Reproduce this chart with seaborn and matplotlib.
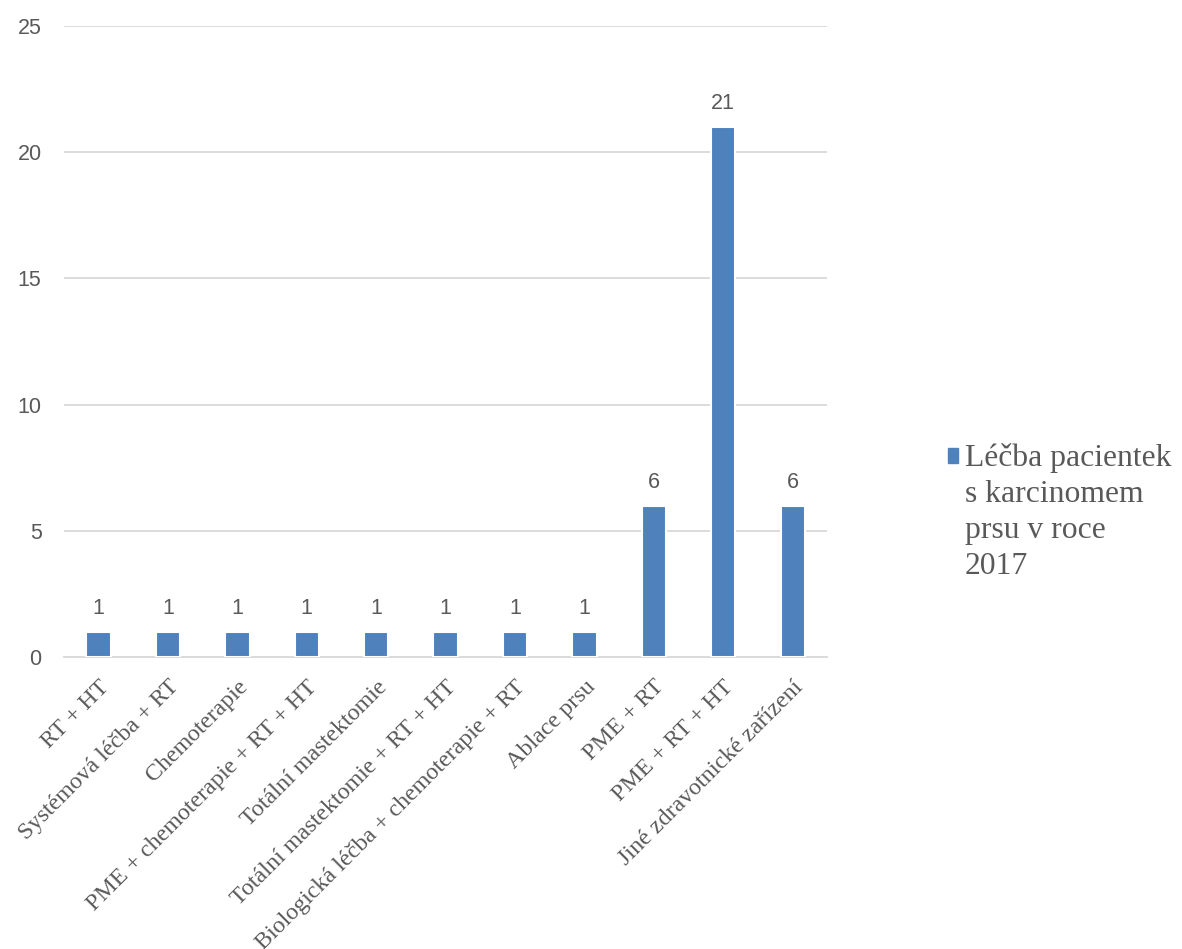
import matplotlib
matplotlib.use("Agg")
import matplotlib.pyplot as plt
import seaborn as sns
import pandas as pd
import numpy as np

categories = ["RT + HT", "Systémová léčba + RT", "Chemoterapie", "PME + chemoterapie + RT + HT",
              "Totální mastektomie", "Totální mastektomie + RT + HT",
              "Biologická léčba + chemoterapie + RT", "Ablace prsu", "PME + RT",
              "PME + RT + HT", "Jiné zdravotnické zařízení"]
values = [1, 1, 1, 1, 1, 1, 1, 1, 6, 21, 6]
series_name = "Léčba pacientek\ns karcinomem\nprsu v roce\n2017"
y_ticks = [0, 5, 10, 15, 20, 25]

sns.set_theme(style="white")
plt.rcParams['font.family'] = ['Liberation Sans', 'DejaVu Sans']

df = pd.DataFrame({"cat": categories, "val": values, "series": series_name})

fig = plt.figure(figsize=(11.82, 9.49), dpi=100)
ax = fig.add_axes([0.054, 0.3077, 0.646, 0.665])

BAR = "#4F81BD"
GRID = "#D9D9D9"
TXT = "#595959"

sns.barplot(data=df, x="cat", y="val", hue="series", palette=[BAR], width=0.35,
            saturation=1, edgecolor="white", linewidth=1.5, ax=ax, zorder=3, legend=True)

ax.set_ylim(0, 25)
ax.set_xlim(-0.5, len(categories) - 0.5)
ax.set_yticks(y_ticks)
ax.set_yticklabels([str(t) for t in y_ticks], fontsize=15.5, color=TXT)
ax.yaxis.grid(True, color=GRID, linewidth=1.3, zorder=0)
ax.set_axisbelow(True)
for s in ["top", "right", "left"]:
    ax.spines[s].set_visible(False)
ax.spines["bottom"].set_color(GRID)
ax.spines["bottom"].set_linewidth(1.3)
ax.tick_params(axis="y", length=0, pad=16)
ax.set_xlabel("")
ax.set_ylabel("")

ax.set_xticks(range(len(categories)))
ax.set_xticklabels(categories, rotation=45, ha="right", rotation_mode="anchor",
                   fontsize=17.3, color=TXT, family=["Liberation Serif", "DejaVu Serif"])
ax.tick_params(axis="x", which="major", length=0, pad=14)
ax.set_xticks(np.arange(-0.5, len(categories), 1.0), minor=True)
ax.tick_params(axis="x", which="minor", length=7, color=GRID, width=1.3)

for c in ax.containers:
    ax.bar_label(c, labels=[str(v) for v in values], padding=9, fontsize=15.5, color=TXT)

ax.legend_.remove()
handles = [plt.Rectangle((0, 0), 1, 1, color=BAR)]
leg = fig.legend(handles, [series_name], loc="center left", bbox_to_anchor=(0.802, 0.4605),
                 frameon=False, borderaxespad=0, borderpad=0,
                 handlelength=0.33, handleheight=0.33, handletextpad=0.2,
                 prop={"family": ["Liberation Serif", "DejaVu Serif"], "size": 22.8})
for t in leg.get_texts():
    t.set_color(TXT)
    t.set_linespacing(1.33)
fig.canvas.draw()
shift = 40.5
for h in leg.legend_handles:
    h.set_y(h.get_y() + shift)

fig.savefig("out.png", dpi=100, facecolor="white")
